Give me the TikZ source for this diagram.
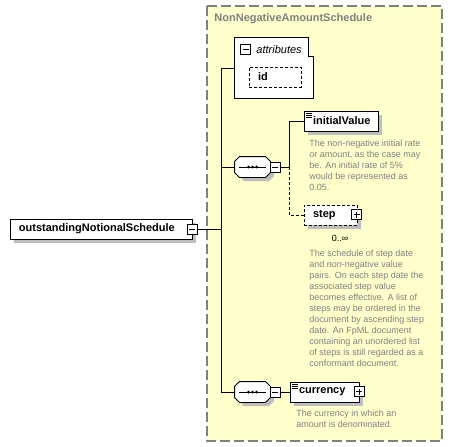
\documentclass[tikz,border=0pt]{standalone}
\usepackage{fontspec}
\setmainfont{Liberation Sans}
\definecolor{grpyel}{RGB}{255,255,204}
\definecolor{grpgray}{RGB}{128,128,128}
\definecolor{shdgray}{RGB}{190,190,190}
\tikzset{elem/.style={draw, fill=white, font=\fontsize{11}{13}\selectfont\bfseries, minimum height=20pt,
    inner xsep=9pt, inner ysep=0pt, align=left},
  dsh/.style={dash pattern=on 3pt off 2pt},
  tgl/.style={draw, fill=white, minimum size=10pt, inner sep=0pt},
  minus/.style={tgl, path picture={\draw ([xshift=2pt]path picture bounding box.west) -- ([xshift=-2pt]path picture bounding box.east);}},
  plus/.style={tgl, path picture={\draw ([xshift=2pt]path picture bounding box.west) -- ([xshift=-2pt]path picture bounding box.east);
    \draw ([yshift=2pt]path picture bounding box.south) -- ([yshift=-2pt]path picture bounding box.north);}},
  docmark/.style={path picture={\foreach \d in {2,4,6}{\draw[line width=0.6pt] ([xshift=2pt,yshift=-\d pt]path picture bounding box.north west) -- ++(6pt,0);}}},
  seq/.style={minimum width=35pt, minimum height=20pt, inner sep=0pt},
  doc/.style={font=\fontsize{9}{11}\selectfont, text=grpgray, align=left, anchor=north west, inner sep=0pt}}

\begin{document}
\begin{tikzpicture}[x=1pt, y=-1pt, line width=0.9pt]
  \useasboundingbox (0,0) rectangle (453,447);
  % complex type group
  \draw[fill=grpyel, draw=grpgray, line width=1.2pt, dash pattern=on 10pt off 4pt] (207,6) rectangle (442,441);
  \node[font=\fontsize{11}{13}\selectfont\bfseries, text=grpgray, anchor=west, inner sep=0pt] (title) at (214,19) {NonNegativeAmountSchedule};
  % shadows
  \foreach \xa/\ya/\xb/\yb in {14/223/196/243, 253/71/305/91, 308/115/382/135, 308/209/361/229, 294/386/363/406}{
    \fill[shdgray] (\xa,\ya) rectangle (\xb,\yb);}
  \foreach \yc in {171,396}{
    \fill[shdgray] (244,\yc-10) -- (269,\yc-10) -- (274,\yc-5) -- (274,\yc+5) -- (269,\yc+10) -- (244,\yc+10)
      -- (239,\yc+5) -- (239,\yc-5) -- cycle;}
  % root element
  \node[elem, text width=164pt] (outer) at (101,229) {outstandingNotionalSchedule};
  \node[minus] (omin) at (192,229) {};
  % attributes
  \node[minimum width=78pt, minimum height=60pt] (attr) at (274,68) {};
  \draw[fill=white] (attr.north west) -- ([xshift=-5pt]attr.north east) -- ([xshift=-5pt,yshift=-19pt]attr.north east)
    -- ([yshift=-19pt]attr.north east) -- (attr.south east) -- (attr.south west) -- cycle;
  \node[minus] (amin) at (245.5,49.5) {};
  \node[font=\fontsize{11}{13}\selectfont\itshape, anchor=west, inner sep=0pt] (attrlbl) at (256,49.5) {attributes};
  \node[elem, dsh, text width=34pt] (id) at (275,77) {id};
  % sequence compositors
  \node[seq] (seqA) at (252.5,167) {};
  \node[seq] (seqB) at (252.5,392) {};
  \foreach \s in {seqA,seqB}{
    \draw[fill=white] ([xshift=5pt]\s.north west) -- ([xshift=-5pt]\s.north east) -- ([yshift=-5pt]\s.north east)
      -- ([yshift=5pt]\s.south east) -- ([xshift=-5pt]\s.south east) -- ([xshift=5pt]\s.south west)
      -- ([yshift=5pt]\s.south west) -- ([yshift=-5pt]\s.north west) -- cycle;
    \draw ([xshift=4pt]\s.west) -- ([xshift=-4pt]\s.east);
    \foreach \d in {-4,0,4}{\fill ([xshift=\d pt]\s.center) circle (1.5pt);}
  }
  \node[minus] (minA) at (275,167) {};
  \node[minus] (minB) at (275,392) {};
  \coordinate (forkA) at (289,167);
  \node[elem, docmark, text width=56pt] (initV) at (341,121) {initialValue};
  \node[doc] (initDoc) at (309,139.5) {The non-negative initial rate\\or amount, as the case may\\be. An initial rate of 5\%\\would be represented as\\0.05.};
  \node[elem, dsh, text width=35pt] (step) at (330.5,215) {step};
  \node[plus] (stepP) at (356.5,214.5) {};
  \node[font=\fontsize{9}{11}\selectfont, inner sep=0pt] (stepOcc) at (340,238) {0..∞};
  \node[doc] (stepDoc) at (309,249.5) {The schedule of step date\\and non-negative value\\pairs. On each step date the\\associated step value\\becomes effective. A list of\\steps may be ordered in the\\document by ascending step\\date. An FpML document\\containing an unordered list\\of steps is still regarded as a\\conformant document.};
  \node[elem, docmark, text width=51pt] (cur) at (324.5,392) {currency};
  \node[plus] (curP) at (359,391.5) {};
  \node[doc] (curDoc) at (296,409.5) {The currency in which an\\amount is denominated.};
  % connectors
  \coordinate (trunkT) at (221,68);
  \coordinate (trunkB) at (221,392);
  \draw (attr.west) -- (trunkT) -- (trunkB) -- (seqB.west);
  \draw (omin.east) -- (omin.east -| trunkT);
  \draw (seqA.west) -- (seqA.west -| trunkT);
  \draw (minA.east) -- (forkA) |- (initV.west);
  \draw[dsh] (forkA) |- (step.west);
  \draw (minB.east) -- (cur.west);
\end{tikzpicture}
\end{document}
